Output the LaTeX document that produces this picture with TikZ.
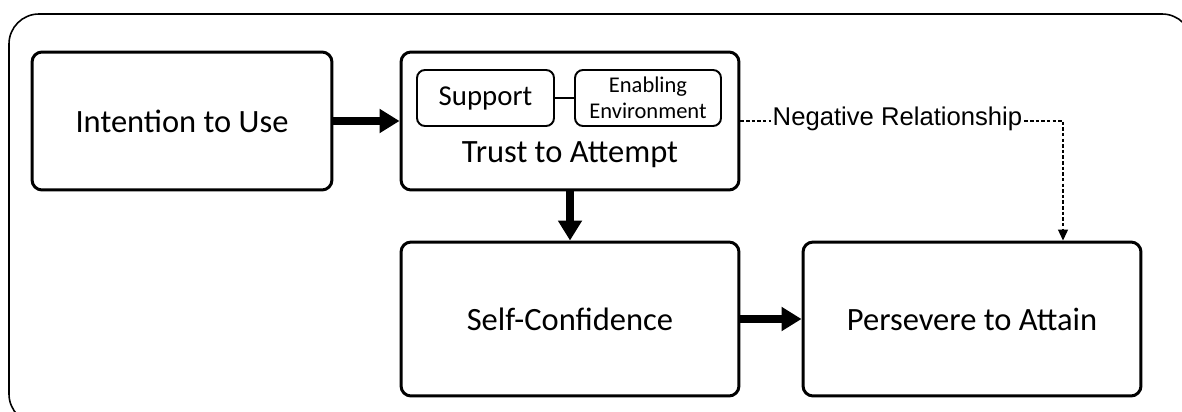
\documentclass[tikz,border=0pt]{standalone}
\usepackage{fontspec}
\setmainfont{Carlito}
\newfontfamily\arialfont{Liberation Sans}
\usetikzlibrary{arrows.meta,calc}
\tikzset{>=latex}
\tikzset{
  bigbox/.style={draw,line width=1.7pt,rounded corners=0.2cm,align=center,font=\fontsize{18.5}{22}\selectfont},
  smallbox/.style={draw,line width=1.1pt,rounded corners=0.16cm,align=center,minimum height=1.12cm,inner sep=0pt},
  flow/.style={line width=4pt,-{Triangle[length=0.4cm,width=0.46cm]}},
  negflow/.style={line width=0.7pt,dash pattern=on 2pt off 1.2pt}
}

\begin{document}
\begin{tikzpicture}[x=0.02cm,y=-0.02cm]
            \useasboundingbox (0,0) rectangle (1182,412);
            \draw[line width=0.9pt,rounded corners=0.6cm] (9,14) rectangle (1192,424);
            \node[bigbox,minimum width=6cm,minimum height=2.76cm] (intent) at (182,121) {Intention to Use};
            \node[bigbox,minimum width=6.76cm,minimum height=2.76cm] (trust) at (570,121) {};
            \node[font=\fontsize{18.5}{22}\selectfont] (trustlbl) at (570,155) {Trust to Attempt};
            \node[smallbox,minimum width=2.74cm,font=\fontsize{16.4}{19}\selectfont] (support) at (485.5,98) {Support};
            \node[smallbox,minimum width=2.92cm,font=\fontsize{12.8}{14.5}\selectfont] (enable) at (648,98) {Enabling\\Environment};
            \node[bigbox,minimum width=6.76cm,minimum height=3.08cm] (selfconf) at (570,319) {Self-Confidence};
            \node[bigbox,minimum width=6.76cm,minimum height=3.08cm] (persevere) at (972,319) {Persevere to Attain};
            \node[font=\arialfont\fontsize{14.6}{17}\selectfont,inner sep=1pt] (neg) at (897.5,119) {Negative Relationship};
            \coordinate (negcorner) at (1063,121);
            % connectors
            \draw[line width=1.7pt] (support) -- (enable);
            \draw[flow] (intent) -- (trust);
            \draw[flow] (trust) -- (selfconf);
            \draw[flow] (selfconf) -- (persevere);
            \draw[negflow] (trust.east) -- (trust.east -| neg.west);
            \draw[negflow,-{Triangle[length=0.22cm,width=0.2cm]}] (neg.east |- negcorner) -- (negcorner) -- (negcorner |- persevere.north);
\end{tikzpicture}
\end{document}
